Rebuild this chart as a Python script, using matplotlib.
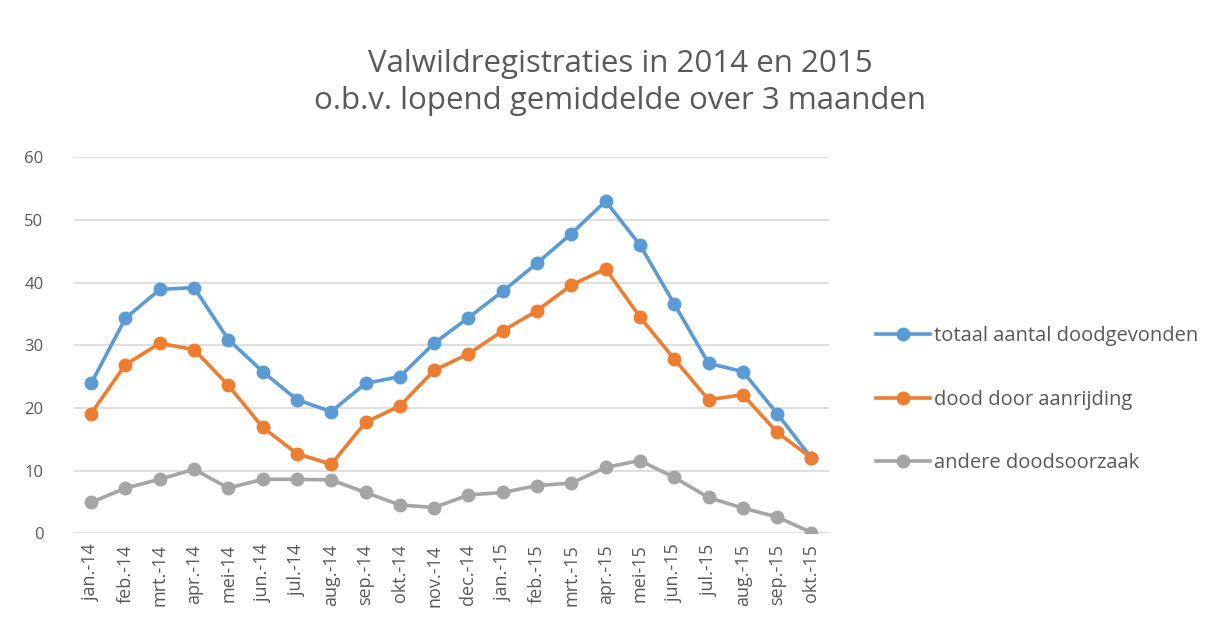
import matplotlib.pyplot as plt

plt.rcParams['font.family'] = ['Open Sans', 'DejaVu Sans']

# maanden (categorie-as)
maanden = ['jan.-14', 'feb.-14', 'mrt.-14', 'apr.-14', 'mei-14', 'jun.-14', 'jul.-14',
           'aug.-14', 'sep.-14', 'okt.-14', 'nov.-14', 'dec.-14', 'jan.-15', 'feb.-15',
           'mrt.-15', 'apr.-15', 'mei-15', 'jun.-15', 'jul.-15', 'aug.-15', 'sep.-15', 'okt.-15']

# lopend gemiddelde over 3 maanden
totaal = [23.9, 34.3, 38.9, 39.2, 30.9, 25.8, 21.3, 19.4, 23.9, 25.0, 30.3, 34.4,
          38.6, 43.1, 47.8, 53.0, 46.0, 36.6, 27.1, 25.8, 19.1, 12.0]
aanrijding = [19.1, 26.9, 30.3, 29.3, 23.6, 16.9, 12.7, 11.0, 17.7, 20.3, 26.0, 28.6,
              32.3, 35.5, 39.6, 42.2, 34.5, 27.8, 21.3, 22.1, 16.1, 12.0]
andere = [4.9, 7.2, 8.6, 10.2, 7.2, 8.6, 8.6, 8.5, 6.5, 4.5, 4.1, 6.1,
          6.5, 7.6, 8.0, 10.5, 11.6, 8.9, 5.7, 4.0, 2.6, 0.1]

series = [
    ('totaal aantal doodgevonden', totaal, '#5B9BD5'),
    ('dood door aanrijding', aanrijding, '#ED7D31'),
    ('andere doodsoorzaak', andere, '#A5A5A5'),
]

fig = plt.figure(figsize=(12.23, 6.34), dpi=100)
ax = fig.add_axes([0.0605, 0.159, 0.617, 0.593])

x = range(len(maanden))
for naam, waarden, kleur in series:
    ax.plot(x, waarden, color=kleur, linewidth=2.6, marker='o', markersize=9,
            label=naam, zorder=3)

# assen
ax.set_xlim(-0.5, len(maanden) - 0.5)
ax.set_ylim(0, 60)
ax.set_yticks(range(0, 61, 10))
ax.set_xticks(list(x))
ax.set_xticklabels(maanden, rotation=90, fontsize=13, color='#595959')
ax.tick_params(axis='y', labelsize=12, labelcolor='#595959', length=0, pad=22)
ax.tick_params(axis='x', length=0, pad=8)
ax.grid(axis='y', color='#D9D9D9', linewidth=1.2, zorder=0)
for s in ax.spines.values():
    s.set_visible(False)

fig.text(0.507, 0.870, 'Valwildregistraties in 2014 en 2015\no.b.v. lopend gemiddelde over 3 maanden',
         ha='center', va='center', fontsize=22.5, color='#595959', linespacing=1.3)

ax.legend(loc='center left', bbox_to_anchor=(1.049, 0.355), frameon=False, borderpad=0,
          fontsize=14.5, labelcolor='#595959', handlelength=2.7, labelspacing=2.15,
          handletextpad=0.2)

fig.savefig('out.png', dpi=100)
